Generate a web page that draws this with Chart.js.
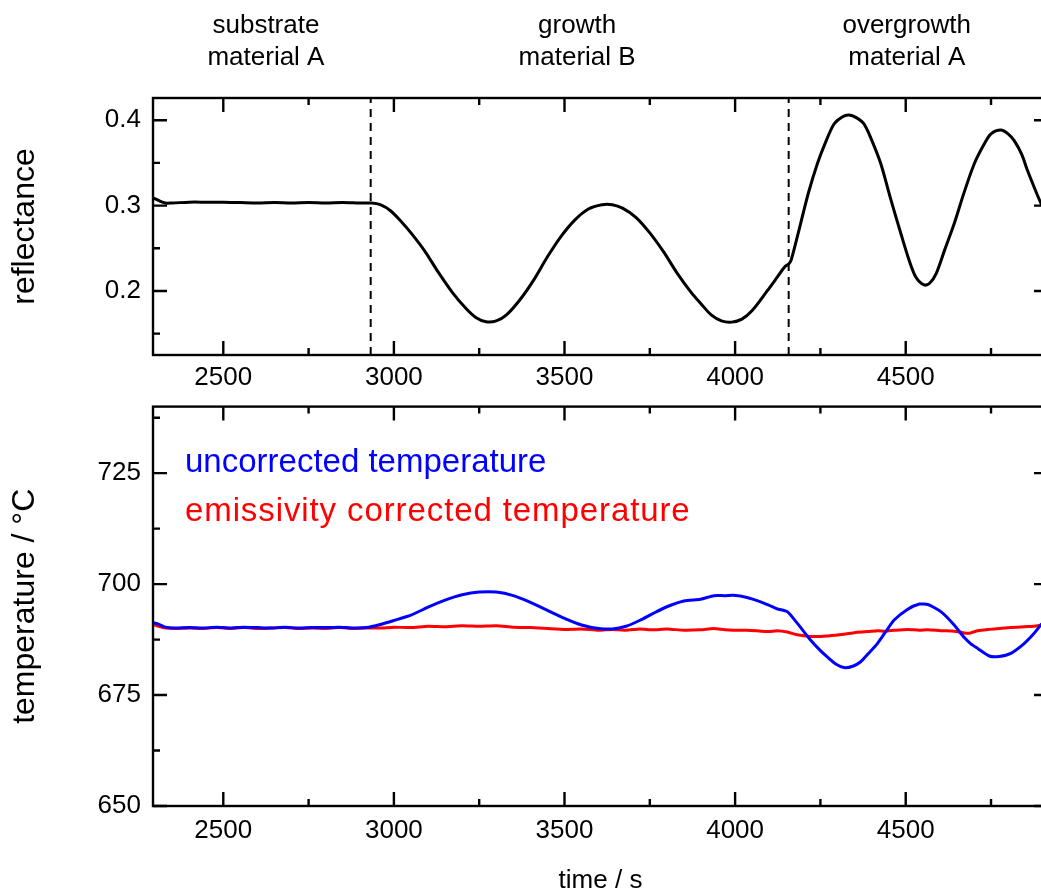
<!DOCTYPE html>
<html>
<head>
<meta charset="utf-8">
<script src="https://cdn.jsdelivr.net/npm/chart.js@4/dist/chart.umd.min.js"></script>
<style>
html, body { margin: 0; padding: 0; background: #fff; overflow: hidden; width: 1041px; height: 894px; }
#top { position: absolute; left: 0; top: 0; width: 1050px; height: 400px; }
#bot { position: absolute; left: 0; top: 379px; width: 1050px; height: 515px; }
</style>
</head>
<body>
<div id="top"><canvas id="refl"></canvas></div>
<div id="bot"><canvas id="temp"></canvas></div>
<script>
// reflectance trace
const timeRefl = [2294, 2310, 2330, 2350, 2400, 2450, 2500, 2550, 2600, 2650, 2700, 2750, 2800, 2850, 2900, 2935,
  2960, 2990, 3020, 3050, 3090, 3130, 3170, 3210, 3240, 3270, 3300, 3330, 3370, 3410, 3450, 3490, 3530, 3570,
  3610, 3640, 3670, 3710, 3750, 3790, 3830, 3870, 3900, 3930, 3960, 3990, 4020, 4050, 4094, 4125, 4145, 4158,
  4165, 4192, 4215, 4241, 4265, 4290, 4315, 4334, 4355, 4378, 4400, 4427, 4455, 4486, 4510, 4530, 4554, 4570,
  4590, 4615, 4642, 4670, 4701, 4730, 4750, 4779, 4800, 4818, 4840, 4857, 4880, 4899];
const reflectance = [0.309, 0.306, 0.303, 0.303, 0.304, 0.304, 0.304, 0.3035, 0.303, 0.3035, 0.303, 0.3035, 0.303, 0.3035, 0.303, 0.303,
  0.301, 0.294, 0.282, 0.268, 0.247, 0.222, 0.199, 0.180, 0.169, 0.164, 0.165, 0.172, 0.190, 0.213, 0.240, 0.264, 0.283, 0.296,
  0.301, 0.301, 0.297, 0.286, 0.268, 0.246, 0.221, 0.199, 0.185, 0.172, 0.165, 0.1635, 0.167, 0.177, 0.200, 0.217, 0.228, 0.232,
  0.237, 0.279, 0.315, 0.349, 0.374, 0.3955, 0.404, 0.406, 0.403, 0.3955, 0.377, 0.349, 0.309, 0.267, 0.236, 0.216, 0.207, 0.209,
  0.221, 0.249, 0.2786, 0.314, 0.349, 0.372, 0.384, 0.3885, 0.384, 0.376, 0.360, 0.341, 0.318, 0.300];

// temperature traces
const timeTemp = [2294, 2310, 2330, 2360, 2400, 2440, 2480, 2520, 2560, 2600, 2640, 2680, 2720, 2760, 2800, 2840, 2880, 2920,
  2960, 3000, 3050, 3100, 3150, 3200, 3250, 3300, 3350, 3400, 3450, 3500, 3550, 3600, 3640, 3680, 3720, 3760, 3800, 3850,
  3899, 3938, 3970, 3996, 4035, 4075, 4100, 4124, 4153, 4182, 4221, 4250, 4270, 4295, 4319, 4345, 4368, 4390, 4417, 4440,
  4466, 4505, 4540, 4565, 4603, 4642, 4671, 4690, 4711, 4745, 4774, 4808, 4847, 4875, 4899];
const tempUncorrected = [691.3, 691.0, 690.3, 690.1, 690.2, 690.1, 690.3, 690.1, 690.3, 690.2, 690.1, 690.3, 690.1, 690.2, 690.2, 690.3, 690.1, 690.2,
  690.9, 691.8, 693.0, 694.8, 696.4, 697.6, 698.2, 698.2, 697.4, 695.9, 694.1, 692.3, 690.8, 690.0, 689.9, 690.5, 691.8, 693.4, 694.9, 696.2,
  696.6, 697.4, 697.4, 697.5, 697.0, 696.0, 695.2, 694.4, 693.8, 691.2, 687.4, 685.0, 683.6, 682.0, 681.2, 681.5, 682.5, 684.3, 686.6, 689.1,
  691.9, 694.3, 695.5, 695.4, 693.8, 690.8, 688.0, 686.6, 685.5, 683.8, 683.7, 684.4, 686.6, 688.8, 691.1];
const tempCorrected = [690.9, 690.5, 690.1, 690.0, 690.1, 690.0, 690.2, 690.0, 690.2, 690.0, 690.1, 690.2, 690.0, 690.1, 690.0, 690.2, 690.0, 690.1,
  690.1, 690.3, 690.2, 690.5, 690.4, 690.6, 690.5, 690.6, 690.3, 690.2, 690.0, 689.8, 689.9, 689.6, 689.8, 689.6, 689.9, 689.7, 689.9, 689.6,
  689.7, 690.0, 689.7, 689.6, 689.6, 689.4, 689.3, 689.5, 689.2, 688.6, 688.2, 688.2, 688.3, 688.5, 688.7, 689.0, 689.2, 689.3, 689.5, 689.4,
  689.6, 689.8, 689.6, 689.7, 689.5, 689.4, 689.0, 689.0, 689.5, 689.8, 690.0, 690.2, 690.4, 690.5, 690.8];

const interfaces = [2932, 4157];
const phaseCenters = [2625, 3537, 4503];
const phaseNames = [['substrate', 'material A'], ['growth', 'material B'], ['overgrowth', 'material A']];

const xMajor = [2500, 3000, 3500, 4000, 4500];
const xMinor = [2750, 3250, 3750, 4250, 4750];
const reflMajor = [0.2, 0.3, 0.4];
const reflMinor = [0.15, 0.25, 0.35];
const tempMajor = [650, 675, 700, 725];
const tempMinor = [662.5, 687.5, 712.5, 737.5];

Chart.defaults.font.family = "'Liberation Sans', Arial, sans-serif";
Chart.defaults.color = '#000';
Chart.defaults.animation = false;

const pts = (xs, ys) => xs.map((x, i) => ({ x, y: ys[i] }));

// box + inward ticks on all four sides
const frame = {
  id: 'frame',
  afterDatasetsDraw(chart, args, o) {
    const { ctx, chartArea: a, scales: { x, y } } = chart;
    ctx.save();
    ctx.strokeStyle = '#000';
    ctx.lineWidth = 2.4;
    ctx.strokeRect(a.left, a.top, a.right - a.left, a.bottom - a.top);
    ctx.beginPath();
    const xt = (v, len) => { const p = x.getPixelForValue(v);
      ctx.moveTo(p, a.bottom); ctx.lineTo(p, a.bottom - len);
      ctx.moveTo(p, a.top); ctx.lineTo(p, a.top + len); };
    const yt = (v, len) => { const p = y.getPixelForValue(v);
      ctx.moveTo(a.left, p); ctx.lineTo(a.left + len, p);
      ctx.moveTo(a.right, p); ctx.lineTo(a.right - len, p); };
    o.xMajor.forEach(v => xt(v, 14));
    o.xMinor.forEach(v => xt(v, 7));
    o.yMajor.forEach(v => yt(v, 14));
    o.yMinor.forEach(v => yt(v, 7));
    ctx.stroke();
    ctx.restore();
  }
};

const phaseLabels = {
  id: 'phaseLabels',
  afterDraw(chart) {
    const { ctx, scales: { x } } = chart;
    ctx.save();
    ctx.font = "26px 'Liberation Sans', Arial, sans-serif";
    ctx.fillStyle = '#000';
    ctx.textAlign = 'center';
    ctx.textBaseline = 'alphabetic';
    phaseNames.forEach((lines, i) => {
      const px = x.getPixelForValue(phaseCenters[i]);
      ctx.fillText(lines[0], px, 33);
      ctx.fillText(lines[1], px, 65);
    });
    ctx.restore();
  }
};

const tempLegend = {
  id: 'tempLegend',
  afterDraw(chart) {
    const { ctx, chartArea: a } = chart;
    ctx.save();
    ctx.font = "33px 'Liberation Sans', Arial, sans-serif";
    ctx.textBaseline = 'alphabetic';
    ctx.fillStyle = '#0000ff';
    ctx.fillText('uncorrected temperature', a.left + 32, a.top + 65);
    ctx.fillStyle = '#ff0000';
    ctx.letterSpacing = '0.9px';
    ctx.fillText('emissivity corrected temperature', a.left + 32, a.top + 114);
    ctx.restore();
  }
};

function xScale(height, pad, title) {
  return {
    type: 'linear', min: 2294, max: 4917,
    grid: { display: false, drawTicks: false }, border: { display: false },
    afterBuildTicks: s => { s.ticks = xMajor.map(v => ({ value: v })); },
    afterFit: s => { s.height = height; },
    ticks: { font: { size: 26 }, padding: pad, maxRotation: 0, callback: v => String(v) },
    title: title ? { display: true, text: title, font: { size: 26 }, padding: { top: 0, bottom: -2 } } : { display: false }
  };
}

function yScale(min, max, major, fmt, title) {
  return {
    type: 'linear', min, max,
    grid: { display: false, drawTicks: false }, border: { display: false },
    afterBuildTicks: s => { s.ticks = major.map(v => ({ value: v })); },
    afterFit: s => { s.width = 153; },
    ticks: { font: { size: 26 }, padding: 12, callback: fmt },
    title: { display: true, text: title, font: { size: 32 }, padding: { top: 6, bottom: 0 } }
  };
}

new Chart(document.getElementById('refl'), {
  type: 'line',
  data: {
    datasets: [
      { data: pts(timeRefl, reflectance), borderColor: '#000', borderWidth: 3, pointRadius: 0, tension: 0.3 },
      ...interfaces.map(t => ({ data: [{ x: t, y: 0.125 }, { x: t, y: 0.426 }], borderColor: '#000',
        borderWidth: 2, borderDash: [8, 6], pointRadius: 0 }))
    ]
  },
  options: {
    responsive: true, maintainAspectRatio: false,
    layout: { padding: { top: 98, right: 2, bottom: 0, left: 0 } },
    plugins: { legend: { display: false }, tooltip: { enabled: false },
      frame: { xMajor, xMinor, yMajor: reflMajor, yMinor: reflMinor } },
    scales: {
      x: xScale(45, 7),
      y: yScale(0.125, 0.426, reflMajor, v => v.toFixed(1), 'reflectance')
    }
  },
  plugins: [frame, phaseLabels]
});

new Chart(document.getElementById('temp'), {
  type: 'line',
  data: {
    datasets: [
      { data: pts(timeTemp, tempUncorrected), borderColor: '#0000ff', borderWidth: 3, pointRadius: 0, tension: 0.2 },
      { data: pts(timeTemp, tempCorrected), borderColor: '#ff0000', borderWidth: 3, pointRadius: 0, tension: 0.2 }
    ]
  },
  options: {
    responsive: true, maintainAspectRatio: false,
    layout: { padding: { top: 7, right: 2, bottom: 0, left: 0 } },
    plugins: { legend: { display: false }, tooltip: { enabled: false },
      frame: { xMajor, xMinor, yMajor: tempMajor, yMinor: tempMinor } },
    scales: {
      x: xScale(88, 9, 'time / s'),
      y: yScale(650, 740, tempMajor, v => String(v), 'temperature / °C')
    }
  },
  plugins: [frame, tempLegend]
});
</script>
</body>
</html>
